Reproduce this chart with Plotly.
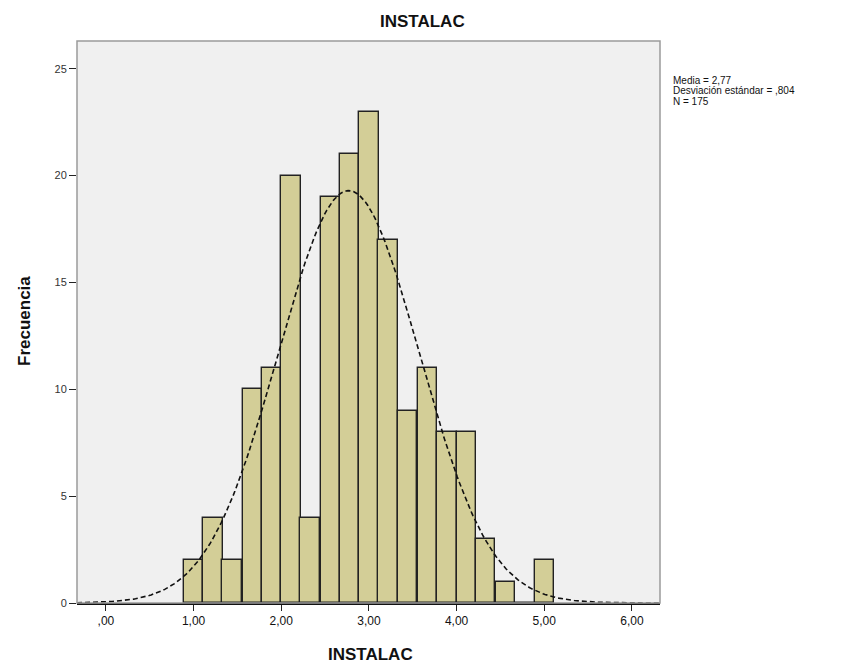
import numpy as np
import plotly.graph_objects as go

# histogram of INSTALAC (N = 175), SPSS-style output
bin_centers = [1.00, 1.22, 1.44, 1.67, 1.89, 2.11, 2.33, 2.56, 2.78, 3.00,
               3.22, 3.44, 3.67, 3.89, 4.11, 4.33, 4.56, 4.78, 5.00]
counts = [2, 4, 2, 10, 11, 20, 4, 19, 21, 23, 17, 9, 11, 8, 8, 3, 1, 0, 2]
bin_width = 2 / 9

mean = 2.77
sd = 0.804
n = 175

x_ticks = [0, 1, 2, 3, 4, 5, 6]
x_ticktext = [",00", "1,00", "2,00", "3,00", "4,00", "5,00", "6,00"]
y_ticks = [0, 5, 10, 15, 20, 25]
stats_lines = ["Media = 2,77", "Desviación estándar = ,804", "N = 175"]

# normal curve scaled to counts
xs = np.linspace(-0.33, 6.32, 300)
ys = n * bin_width * np.exp(-0.5 * ((xs - mean) / sd) ** 2) / (sd * np.sqrt(2 * np.pi))

fig = go.Figure()
fig.add_trace(go.Bar(
    x=bin_centers, y=counts, width=bin_width,
    marker=dict(color="#d3ce97", line=dict(color="#222222", width=1.4)),
    showlegend=False, hoverinfo="x+y",
))
fig.add_trace(go.Scatter(
    x=xs, y=ys, mode="lines",
    line=dict(color="#111111", width=1.6, dash="5px,3px"),
    showlegend=False, hoverinfo="skip",
))

# the page body has an 8px margin, so margins are shifted to compensate
annotations = [
    dict(text="<b>INSTALAC</b>", x=0.592, y=1.034, font=dict(size=17)),
    dict(text="<b>INSTALAC</b>", x=0.5026, y=-0.0925, font=dict(size=17)),
    dict(text="<b>Frecuencia</b>", x=-0.089, y=0.502, textangle=-90, font=dict(size=17)),
]
for i, line in enumerate(stats_lines):
    annotations.append(dict(text=line, x=1.019, y=0.9306 - i * 0.0195,
                            xanchor="left", font=dict(size=10)))
for a in annotations:
    a.update(xref="paper", yref="paper", showarrow=False)
    a.setdefault("xanchor", "center")
    a.setdefault("yanchor", "middle")

fig.update_layout(
    width=865, height=668,
    margin=dict(l=69, r=213, t=33, b=73),
    paper_bgcolor="white",
    plot_bgcolor="#f0f0f0",
    font=dict(family="Liberation Sans, Arial, sans-serif", color="#111111"),
    bargap=0,
    xaxis=dict(
        range=[-0.33, 6.32], tickvals=x_ticks, ticktext=x_ticktext,
        ticks="outside", ticklen=6, tickcolor="#222", tickfont=dict(size=12),
        showgrid=False, zeroline=False, showline=True, linecolor="#111", linewidth=1.5,
    ),
    yaxis=dict(
        range=[0, 26.3], tickvals=y_ticks,
        ticks="outside", ticklen=7, tickcolor="#222", tickfont=dict(size=11, color="#333"),
        showgrid=False, zeroline=False, showline=False,
    ),
    shapes=[dict(type="rect", xref="paper", yref="paper", x0=0, y0=0, x1=1, y1=1,
                 line=dict(color="#9a9a9a", width=1.5), layer="above")],
    annotations=annotations,
)

fig.write_html("out.html")
